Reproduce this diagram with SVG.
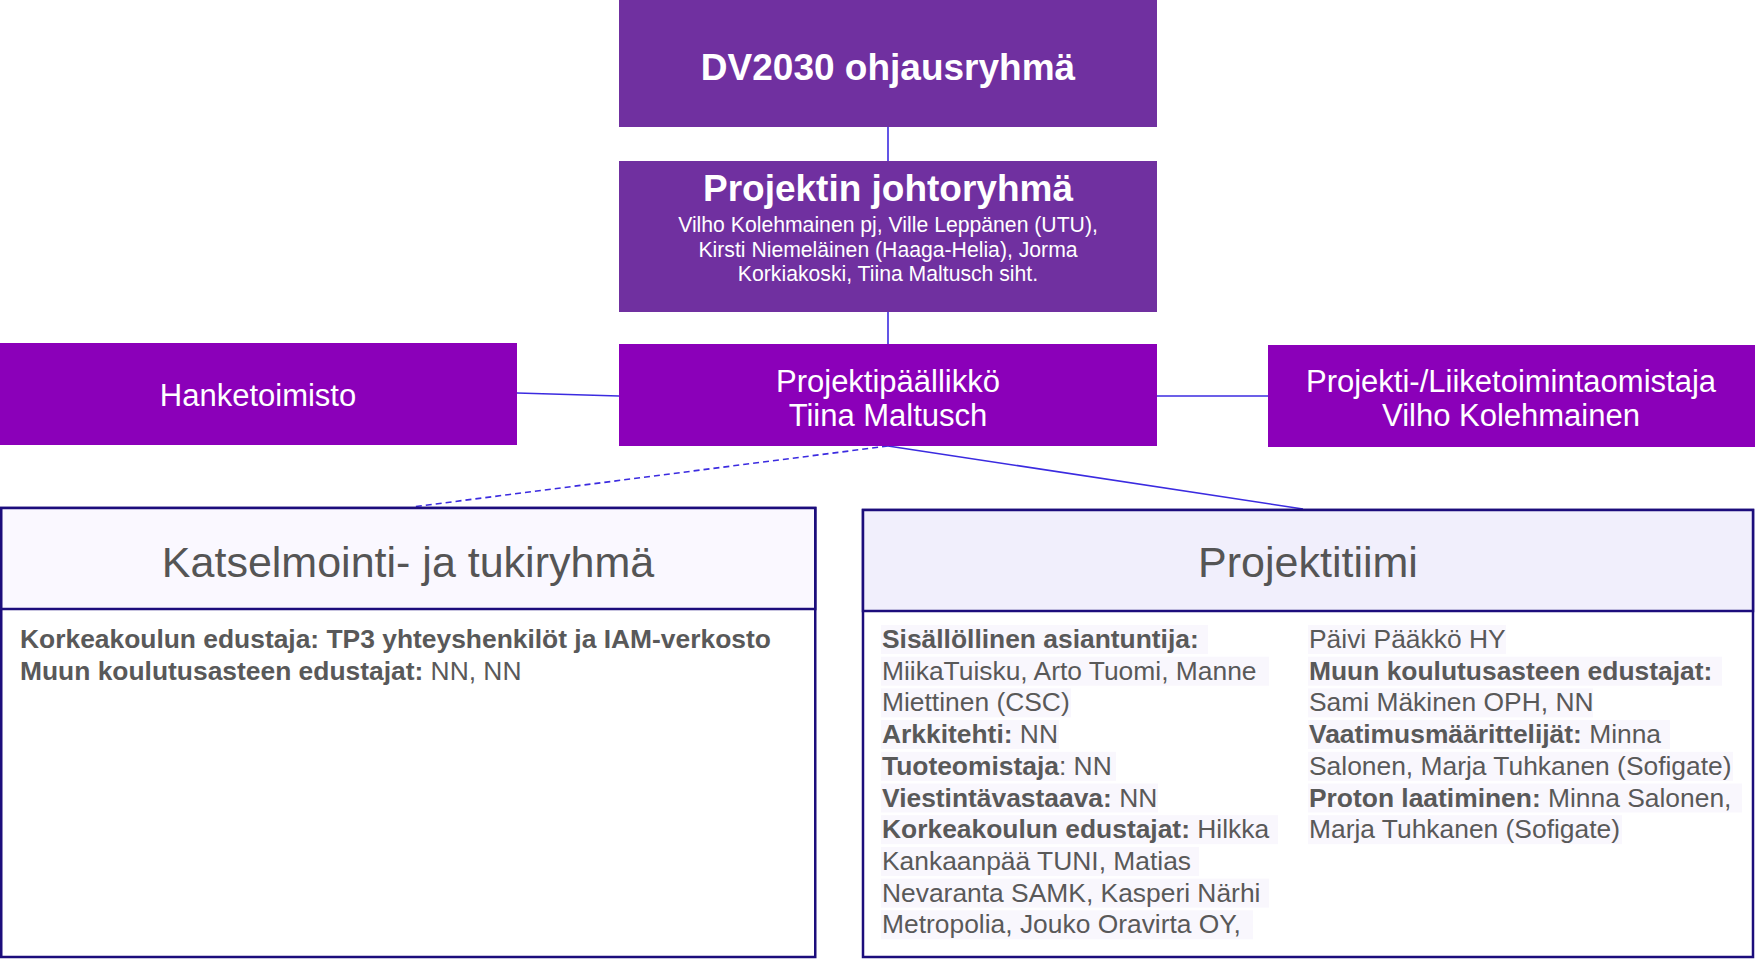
<svg xmlns="http://www.w3.org/2000/svg" width="1755" height="961" viewBox="0 0 1755 961">
<style>
.dark{fill:#7030a0}
.mid{fill:#8b00b9}
.wt{fill:#ffffff;font-family:"Liberation Sans",Arial,sans-serif;text-anchor:middle}
.b{font-weight:bold}
.conn{stroke:#3b2be0;stroke-width:1.6;fill:none}
.frame{stroke:#1c0d7c;stroke-width:2.5}
.hd{fill:#555555;font-family:"Liberation Sans",Arial,sans-serif;font-size:43px;text-anchor:middle}
.bt{fill:#595959;font-family:"Liberation Sans",Arial,sans-serif;font-size:26.4px}
.hl{fill:#f9f7fd}
</style>
<rect width="1755" height="961" fill="#ffffff"/>
<g id="connectors">
<line class="conn" x1="888" y1="127" x2="888" y2="161"/>
<line class="conn" x1="888" y1="312" x2="888" y2="344"/>
<line class="conn" x1="517" y1="393" x2="619" y2="396"/>
<line class="conn" x1="1157" y1="396" x2="1268" y2="396"/>
<line class="conn" x1="888" y1="446" x2="412" y2="507" stroke-dasharray="6,4"/>
<line class="conn" x1="888" y1="446" x2="1303" y2="509"/>
</g>
<g id="ohjausryhma">
<rect class="dark" x="619" y="0" width="538" height="127"/>
<text class="wt b" x="888" y="80" font-size="37">DV2030 ohjausryhmä</text>
</g>
<g id="johtoryhma">
<rect class="dark" x="619" y="161" width="538" height="151"/>
<text class="wt b" x="888" y="201" font-size="37">Projektin johtoryhmä</text>
<text class="wt" x="888" y="232" font-size="21.2">Vilho Kolehmainen pj, Ville Leppänen (UTU),</text>
<text class="wt" x="888" y="256.5" font-size="21.2">Kirsti Niemeläinen (Haaga-Helia), Jorma</text>
<text class="wt" x="888" y="281" font-size="21.2">Korkiakoski, Tiina Maltusch siht.</text>
</g>
<g id="hanketoimisto">
<rect class="mid" x="0" y="343" width="517" height="102"/>
<text class="wt" x="258" y="406" font-size="31">Hanketoimisto</text>
</g>
<g id="projektipaallikko">
<rect class="mid" x="619" y="344" width="538" height="102"/>
<text class="wt" x="888" y="392" font-size="31">Projektipäällikkö</text>
<text class="wt" x="888" y="426" font-size="31">Tiina Maltusch</text>
</g>
<g id="omistaja">
<rect class="mid" x="1268" y="345" width="487" height="102"/>
<text class="wt" x="1511" y="392" font-size="31">Projekti-/Liiketoimintaomistaja</text>
<text class="wt" x="1511" y="426" font-size="31">Vilho Kolehmainen</text>
</g>
<g id="katselmointi">
<rect x="1.25" y="508" width="814" height="449" fill="#ffffff" class="frame"/>
<rect x="1.25" y="508" width="814" height="101" fill="#faf8ff" class="frame"/>
<text class="hd" x="408" y="577">Katselmointi- ja tukiryhmä</text>
<text class="bt" x="20" y="648"><tspan font-weight="bold">Korkeakoulun edustaja: TP3 yhteyshenkilöt ja IAM-verkosto</tspan></text>
<text class="bt" x="20" y="680"><tspan font-weight="bold">Muun koulutusasteen edustajat:</tspan> NN, NN</text>
</g>
<g id="projektitiimi">
<rect x="863" y="510" width="890" height="447" fill="#ffffff" class="frame"/>
<rect x="863" y="510" width="890" height="101" fill="#f1effc" class="frame"/>
<text class="hd" x="1308" y="577">Projektitiimi</text>
<g id="highlights">
<rect class="hl" x="881" y="625" width="327" height="29"/>
<rect class="hl" x="881" y="656.7" width="388" height="29"/>
<rect class="hl" x="881" y="688.4" width="190" height="29"/>
<rect class="hl" x="881" y="720" width="178" height="29"/>
<rect class="hl" x="881" y="751.8" width="235" height="29"/>
<rect class="hl" x="881" y="783.5" width="277" height="29"/>
<rect class="hl" x="881" y="815.2" width="397" height="29"/>
<rect class="hl" x="881" y="846.9" width="318" height="29"/>
<rect class="hl" x="881" y="878.6" width="388" height="29"/>
<rect class="hl" x="881" y="910.3" width="372" height="29"/>
<rect class="hl" x="1308" y="625" width="198" height="29"/>
<rect class="hl" x="1308" y="656.7" width="414" height="29"/>
<rect class="hl" x="1308" y="688.4" width="285" height="29"/>
<rect class="hl" x="1308" y="720" width="362" height="29"/>
<rect class="hl" x="1308" y="751.8" width="425" height="29"/>
<rect class="hl" x="1308" y="783.5" width="434" height="29"/>
<rect class="hl" x="1308" y="815.2" width="314" height="29"/>
</g>
<text class="bt" x="882" y="648"><tspan font-weight="bold">Sisällöllinen asiantuntija:</tspan></text>
<text class="bt" x="882" y="679.7">MiikaTuisku, Arto Tuomi, Manne</text>
<text class="bt" x="882" y="711.4">Miettinen (CSC)</text>
<text class="bt" x="882" y="743"><tspan font-weight="bold">Arkkitehti:</tspan> NN</text>
<text class="bt" x="882" y="774.8"><tspan font-weight="bold">Tuoteomistaja</tspan>: NN</text>
<text class="bt" x="882" y="806.5"><tspan font-weight="bold">Viestintävastaava:</tspan> NN</text>
<text class="bt" x="882" y="838.2"><tspan font-weight="bold">Korkeakoulun edustajat:</tspan> Hilkka</text>
<text class="bt" x="882" y="869.9">Kankaanpää TUNI, Matias</text>
<text class="bt" x="882" y="901.6">Nevaranta SAMK, Kasperi Närhi</text>
<text class="bt" x="882" y="933.3">Metropolia, Jouko Oravirta OY,</text>
<text class="bt" x="1309" y="648">Päivi Pääkkö HY</text>
<text class="bt" x="1309" y="679.7"><tspan font-weight="bold">Muun koulutusasteen edustajat:</tspan></text>
<text class="bt" x="1309" y="711.4">Sami Mäkinen OPH, NN</text>
<text class="bt" x="1309" y="743"><tspan font-weight="bold">Vaatimusmäärittelijät:</tspan> Minna</text>
<text class="bt" x="1309" y="774.8">Salonen, Marja Tuhkanen (Sofigate)</text>
<text class="bt" x="1309" y="806.5"><tspan font-weight="bold">Proton laatiminen:</tspan> Minna Salonen,</text>
<text class="bt" x="1309" y="838.2">Marja Tuhkanen (Sofigate)</text>
</g>
</svg>
